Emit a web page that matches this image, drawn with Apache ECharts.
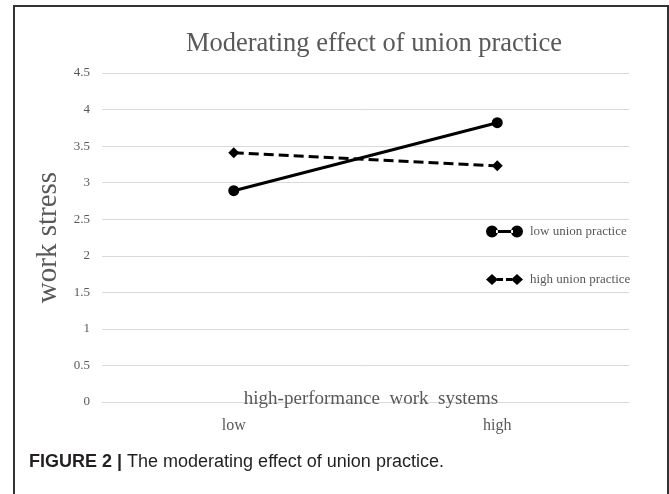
<!DOCTYPE html>
<html>
<head>
<meta charset="utf-8">
<script src="https://cdn.jsdelivr.net/npm/echarts@6/dist/echarts.min.js"></script>
<style>
html,body{margin:0;padding:0;background:#fff;}
#chart{width:669px;height:494px;}
</style>
</head>
<body>
<div id="chart"></div>
<script>
// ---- data ----
var categories = ['low', 'high'];
var lowUnionPractice = [2.89, 3.82];
var highUnionPractice = [3.41, 3.23];
var yMin = 0, yMax = 4.5, yStep = 0.5;
var seriesNames = ['low union practice', 'high union practice'];
var titleText = 'Moderating effect of union practice';
var xName = 'high-performance  work  systems';
var yName = 'work stress';
var captionBold = 'FIGURE 2 |';
var captionRest = ' The moderating effect of union practice.';

var SERIF = '"Liberation Serif", "Times New Roman", serif';
var SANS = '"Liberation Sans", Arial, sans-serif';
var GRAY = '#595959';

var solidIcon = 'path://M0,6 a6,6 0 1,0 12,0 a6,6 0 1,0 -12,0 Z M25,6 a6,6 0 1,0 12,0 a6,6 0 1,0 -12,0 Z M10,4.4 L27,4.4 L27,7.6 L10,7.6 Z';
var dashIcon = 'path://M0,6 L6,0.5 L12,6 L6,11.5 Z M25,6 L31,0.5 L37,6 L31,11.5 Z M11,4.4 L17,4.4 L17,7.6 L11,7.6 Z M20,4.4 L26,4.4 L26,7.6 L20,7.6 Z';

var chart = echarts.init(document.getElementById('chart'), null, {renderer: 'canvas'});
chart.setOption({
  backgroundColor: '#ffffff',
  animation: false,
  title: [{
    text: titleText,
    left: 369, top: 26, textAlign: 'center',
    textStyle: {fontFamily: SERIF, fontSize: 26.5, fontWeight: 'normal', color: GRAY}
  }, {
    text: xName,
    left: 366, top: 385, textAlign: 'center',
    textStyle: {fontFamily: SERIF, fontSize: 19, fontWeight: 'normal', color: GRAY}
  }, {
    text: '{b|' + captionBold + '}{n|' + captionRest + '}',
    left: 24, top: 448,
    textStyle: {
      rich: {
        b: {fontFamily: SANS, fontSize: 18, fontWeight: 'bold', color: '#231f20'},
        n: {fontFamily: SANS, fontSize: 18, fontWeight: 'normal', color: '#231f20'}
      }
    }
  }],
  legend: {
    orient: 'vertical',
    left: 486, top: 225, padding: 0,
    itemWidth: 37, itemHeight: 12, itemGap: 35,
    textStyle: {fontFamily: SERIF, fontSize: 13, color: GRAY, padding: [0,0,0,2]},
    data: [
      {name: seriesNames[0], icon: solidIcon},
      {name: seriesNames[1], icon: dashIcon}
    ]
  },
  graphic: [{
    type: 'rect',
    shape: {x: 14, y: 6, width: 654, height: 520},
    style: {fill: 'none', stroke: '#333', lineWidth: 2},
    silent: true
  }],
  grid: {left: 102, right: 40, top: 73, bottom: 92},
  xAxis: {
    type: 'category',
    data: categories,
    boundaryGap: true,
    axisLine: {show: true, lineStyle: {color: '#d9d9d9', width: 1}},
    axisTick: {show: false},
    axisLabel: {fontFamily: SERIF, fontSize: 16, color: GRAY, margin: 16}
  },
  yAxis: {
    type: 'value',
    min: yMin, max: yMax, interval: yStep,
    axisLine: {show: false},
    axisTick: {show: false},
    axisLabel: {fontFamily: SERIF, fontSize: 13, color: GRAY, margin: 12},
    splitLine: {lineStyle: {color: '#d9d9d9', width: 1}},
    name: yName,
    nameLocation: 'middle',
    nameGap: 35,
    nameRotate: 90,
    nameTextStyle: {fontFamily: SERIF, fontSize: 29, color: GRAY}
  },
  series: [{
    name: seriesNames[0],
    type: 'line',
    data: lowUnionPractice,
    symbol: 'circle', symbolSize: 11,
    itemStyle: {color: '#000'},
    lineStyle: {color: '#000', width: 3}
  }, {
    name: seriesNames[1],
    type: 'line',
    data: highUnionPractice,
    symbol: 'diamond', symbolSize: 11,
    itemStyle: {color: '#000'},
    lineStyle: {color: '#000', width: 3, type: [10, 5]}
  }]
});
</script>
</body>
</html>
